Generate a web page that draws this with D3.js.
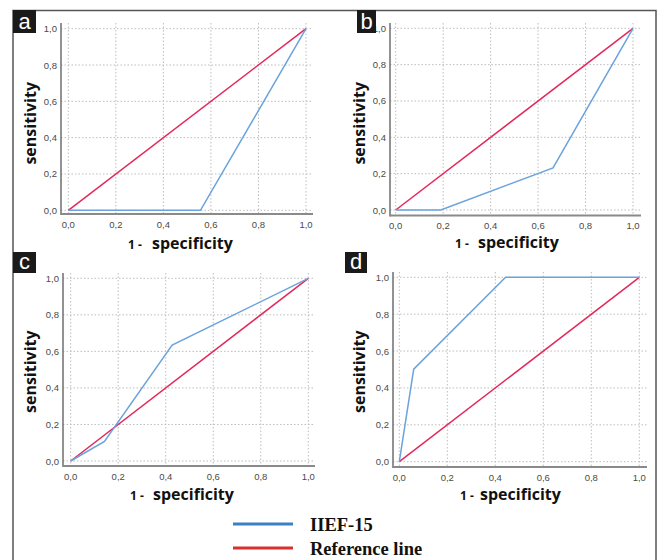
<!DOCTYPE html>
<html><head><meta charset="utf-8">
<script src="https://cdn.jsdelivr.net/npm/d3@7"></script>
<style>body{margin:0;background:#fff}svg{display:block}</style>
</head><body><svg id="chart" width="659" height="560"></svg>
<script>
// ---- data ----
const panelLetters = ["a","b","c","d"];
const tickValues = [0,0.2,0.4,0.6,0.8,1.0];
const tickLabels = ["0,0","0,2","0,4","0,6","0,8","1,0"];
const xTitleParts = ["1 -","specificity"];
const yTitleText = "sensitivity";
const seriesNames = ["IIEF-15","Reference line"];
const rocA = [[0,0],[0.556,0],[1,1]];
const rocB = [[0,0],[0.19,0],[0.663,0.232],[1,1]];
const rocC = [[0,0],[0.142,0.107],[0.427,0.634],[1,1]];
const rocD = [[0,0],[0.06,0.502],[0.443,1],[1,1]];
const refLine = [[0,0],[1,1]];
const rocs = [rocA, rocB, rocC, rocD];

// ---- layout ----
const layout = [
  {l:61, t:23, r:313, b:214, x0:68.3, x1:306, y0:210.3, y1:28.7, box:[13,10,23,23], yt:[36,123.3], xt:[128,152,249]},
  {l:390,t:23, r:641, b:215.5, x0:395.7,x1:633, y0:210, y1:28.3, box:[357,10,19,23], yt:[365,123.3], xt:[455,478,248]},
  {l:63, t:273,r:315, b:466, x0:70.7, x1:308.3, y0:461, y1:278.3, box:[13,252,23,21], yt:[36,371.7], xt:[130,153,500]},
  {l:393,t:272,r:647, b:467, x0:399.3,x1:639.3, y0:461.7,y1:277.3, box:[345,252,22,21], yt:[365,371.7], xt:[460,480,500]}
];
const blue = "#6aa3dc", red = "#e3285a";

const svg = d3.select("#chart");
svg.append("rect").attr("width",659).attr("height",560).attr("fill","#fff");
svg.append("path").attr("d","M13,562V10.5H656V562").attr("fill","none").attr("stroke","#555").attr("stroke-width",1.5);

layout.forEach((L,i)=>{
  const g = svg.append("g");
  const x = d3.scaleLinear().domain([0,1]).range([L.x0,L.x1]);
  const y = d3.scaleLinear().domain([0,1]).range([L.y0,L.y1]);
  g.selectAll(".vg").data(tickValues).join("line")
    .attr("x1",d=>x(d)).attr("x2",d=>x(d)).attr("y1",L.t).attr("y2",L.b)
    .attr("stroke","#bdbdbd").attr("stroke-dasharray","1.5,2").attr("stroke-width",1);
  g.selectAll(".hg").data(tickValues).join("line")
    .attr("y1",d=>y(d)).attr("y2",d=>y(d)).attr("x1",L.l).attr("x2",L.r)
    .attr("stroke","#bdbdbd").attr("stroke-dasharray","1.5,2").attr("stroke-width",1);
  g.append("line").attr("x1",L.l).attr("x2",L.l).attr("y1",L.t).attr("y2",L.b+1).attr("stroke","#6e6e6e").attr("stroke-width",1.5);
  g.append("line").attr("x1",L.l).attr("x2",L.r).attr("y1",L.b).attr("y2",L.b).attr("stroke","#8a8a8a").attr("stroke-width",2);
  g.selectAll(".xl").data(tickValues).join("text")
    .attr("x",d=>x(d)).attr("y",L.b+13.5).attr("text-anchor","middle")
    .attr("font-family","Liberation Sans, Arial, sans-serif").attr("font-size",9.5).attr("fill","#4a4a4a")
    .text((d,j)=>tickLabels[j]);
  g.selectAll(".yl").data(tickValues).join("text")
    .attr("x",L.l-4).attr("y",d=>y(d)+3.5).attr("text-anchor","end")
    .attr("font-family","Liberation Sans, Arial, sans-serif").attr("font-size",9.5).attr("fill","#4a4a4a")
    .text((d,j)=>tickLabels[j]);
  const line = d3.line().x(d=>x(d[0])).y(d=>y(d[1]));
  g.append("path").attr("d",line(refLine)).attr("fill","none").attr("stroke",red).attr("stroke-width",1.5);
  g.append("path").attr("d",line(rocs[i])).attr("fill","none").attr("stroke",blue).attr("stroke-width",1.5);
  g.append("text").attr("transform",`translate(${L.yt[0]},${L.yt[1]}) rotate(-90)`)
    .attr("text-anchor","middle").attr("font-family","Open Sans, sans-serif").attr("font-weight",700)
    .attr("font-size",16).attr("fill","#111").text(yTitleText);
  g.append("text").attr("x",L.xt[0]).attr("y",L.xt[2]).attr("font-family","Open Sans, sans-serif")
    .attr("font-weight",700).attr("font-size",12).attr("fill","#111").text(xTitleParts[0]);
  g.append("text").attr("x",L.xt[1]).attr("y",L.xt[2]).attr("font-family","Open Sans, sans-serif")
    .attr("font-weight",700).attr("font-size",16).attr("fill","#111").text(xTitleParts[1]);
  g.append("rect").attr("x",L.box[0]).attr("y",L.box[1]).attr("width",L.box[2]).attr("height",L.box[3]).attr("fill","#1a1a1a");
  g.append("text").attr("x",L.box[0]+L.box[2]/2).attr("y",L.box[1]+L.box[3]-4.5).attr("text-anchor","middle")
    .attr("font-family","Liberation Sans, Arial, sans-serif").attr("font-size",22).attr("fill","#fff").text(panelLetters[i]);
});

const legY = [524, 548];
const legColors = ["#3d7fc6", "#d8302e"];
const leg = svg.append("g");
seriesNames.forEach((n,i)=>{
  leg.append("line").attr("x1",233).attr("x2",293).attr("y1",legY[i]).attr("y2",legY[i]).attr("stroke",legColors[i]).attr("stroke-width",3);
  leg.append("text").attr("x",310).attr("y",legY[i]+7).attr("font-family","Liberation Serif, serif").attr("font-weight",700)
    .attr("font-size",18.5).attr("fill","#111").text(n);
});
</script></body></html>
